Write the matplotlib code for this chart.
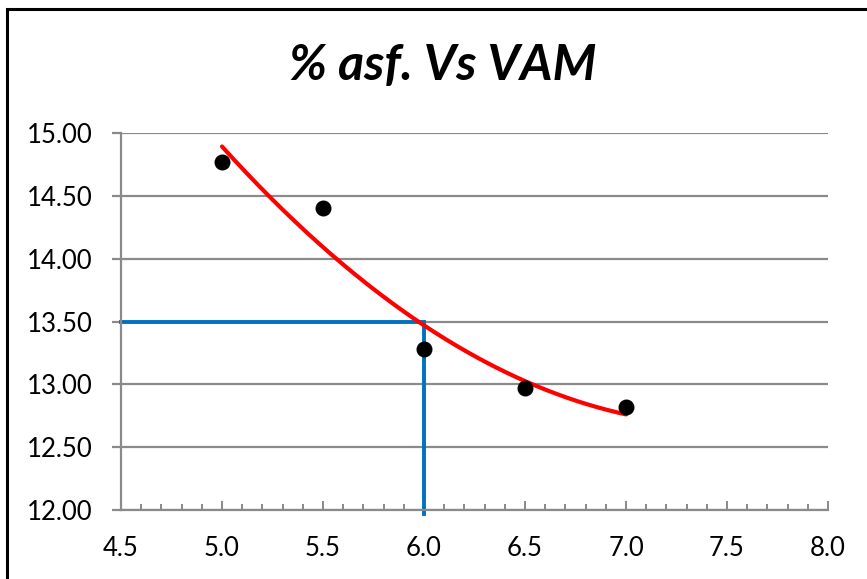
import numpy as np
import matplotlib
matplotlib.use("Agg")
import matplotlib.pyplot as plt
from matplotlib.patches import Rectangle
from matplotlib.ticker import MultipleLocator, FormatStrFormatter

# % asphalt content vs. voids in mineral aggregate (VAM)
asphalt_pct = [5.0, 5.5, 6.0, 6.5, 7.0]
vam = [14.77, 14.40, 13.28, 12.97, 12.82]

# design reading on the curve
design_asphalt = 6.0
design_vam = 13.50

x_ticks = [4.5, 5.0, 5.5, 6.0, 6.5, 7.0, 7.5, 8.0]
y_ticks = [12.00, 12.50, 13.00, 13.50, 14.00, 14.50, 15.00]

W, H = 867, 579
fig = plt.figure(figsize=(W / 100, H / 100), dpi=100)
fig.patch.set_facecolor("white")

ax = fig.add_axes([121 / W, (H - 510) / H, (828 - 121) / W, (510 - 133) / H])
ax.set_xlim(4.5, 8.0)
ax.set_ylim(12.0, 15.0)

grid_c = "#8a8a8a"
for y in y_ticks:
    ax.axhline(y, color=grid_c, lw=1.6, zorder=1)

for side in ("top", "right"):
    ax.spines[side].set_visible(False)
for side in ("left", "bottom"):
    ax.spines[side].set_color(grid_c)
    ax.spines[side].set_linewidth(1.6)

font = "Lato"
ax.set_xticks(x_ticks)
ax.set_yticks(y_ticks)
ax.xaxis.set_minor_locator(MultipleLocator(0.1))
ax.xaxis.set_major_formatter(FormatStrFormatter("%.1f"))
ax.yaxis.set_major_formatter(FormatStrFormatter("%.2f"))
ax.tick_params(axis="x", which="major", direction="in", length=6.5, width=1.4,
               color=grid_c, pad=19, labelsize=18.5)
ax.tick_params(axis="x", which="minor", direction="in", length=4.3, width=1.4,
               color=grid_c)
ax.tick_params(axis="y", which="major", direction="out", length=6.5, width=1.6,
               color=grid_c, pad=14, labelsize=18.5)
for lab in ax.get_xticklabels() + ax.get_yticklabels():
    lab.set_fontfamily(font)

# second-order trendline through the measured points
coef = np.polyfit(asphalt_pct, vam, 2)
xs = np.linspace(min(asphalt_pct), max(asphalt_pct), 200)
ax.plot(xs, np.polyval(coef, xs), color="#ff0000", lw=3.0, zorder=3,
        solid_capstyle="round")

# design reading guides
ax.plot([4.5, design_asphalt, design_asphalt], [design_vam, design_vam, 11.97],
        color="#0070c0", lw=2.8, zorder=2, clip_on=False,
        solid_joinstyle="miter")

ax.scatter(asphalt_pct, vam, s=110, color="black", zorder=4)

fig.text(443 / W, 1 - 66 / H, "% asf. Vs VAM", ha="center", va="center",
         fontsize=36, fontweight="bold", fontstyle="italic", family=font)

# chart frame
fig.patches.append(Rectangle((7 / W, -0.1), 1.2, 1 - 9 / H + 0.1,
                             transform=fig.transFigure, fill=False,
                             ec="black", lw=2.2, zorder=10))

fig.savefig("out.png", dpi=100)
